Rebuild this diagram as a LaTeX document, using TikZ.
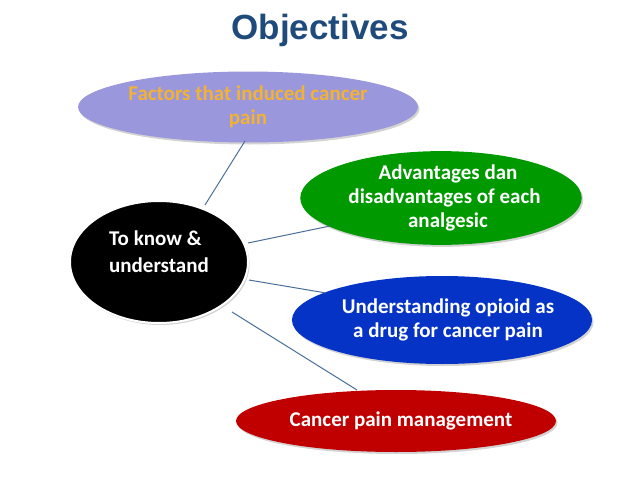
\documentclass[tikz,border=0pt]{standalone}
\usepackage{fontspec}
\setmainfont{Carlito}
\newfontfamily\titlefont{Liberation Sans}
\usetikzlibrary{shapes.geometric,shadows}
\definecolor{titleblue}{HTML}{1F4A7C}
\definecolor{lavender}{HTML}{9B97DC}
\definecolor{orangetxt}{HTML}{F2B233}
\definecolor{grn}{HTML}{009A00}
\definecolor{blu}{HTML}{0433C6}
\definecolor{rd}{HTML}{C00000}
\definecolor{conn}{HTML}{4A6E9A}
\newcommand{\shiftr}[2]{\hspace*{#1}#2\hspace*{-#1}}
\tikzset{
  oval/.style={ellipse, inner sep=0pt, align=center, font=\bfseries\fontsize{21}{24}\selectfont,
    drop shadow={shadow xshift=1.5pt, shadow yshift=-2pt, opacity=0.35}},
  conline/.style={draw=conn, line width=1pt}
}
\begin{document}
\begin{tikzpicture}[x=1pt,y=-1pt]
\useasboundingbox (0,0) rectangle (638,479);
\node[font=\titlefont\bfseries\fontsize{35}{40}\selectfont, text=titleblue] (title) at (320,30) {Objectives};
\node[oval, fill=lavender, text=orangetxt, minimum width=340pt, minimum height=71pt] (f) at (248,107) {Factors that induced cancer\\pain};
\node[oval, fill=grn, text=white, minimum width=276pt, minimum height=92pt] (a) at (441,198) {\shiftr{7pt}{Advantages dan}\\\shiftr{7pt}{disadvantages of each}\\\shiftr{7pt}{analgesic}};
\node[oval, fill=blu, text=white, minimum width=292pt, minimum height=88pt] (u) at (442,320) {\shiftr{6pt}{Understanding opioid as}\\\shiftr{6pt}{a drug for cancer pain}};
\node[oval, fill=rd, text=white, minimum width=320pt, minimum height=62pt] (c) at (396,421) {\shiftr{5pt}{Cancer pain management}};
\coordinate (k1) at (205,205);
\coordinate (k2) at (248,243);
\coordinate (k3) at (249,280);
\coordinate (k4) at (232,312);
\coordinate (f1) at (245,141);
\coordinate (a1) at (330,226);
\coordinate (u1) at (326,293);
\coordinate (c1) at (357,390);
\draw[conline] (k1) -- (f1);
\draw[conline] (k2) -- (a1);
\draw[conline] (k3) -- (u1);
\draw[conline] (k4) -- (c1);
\node[oval, fill=black, draw=white, line width=2pt, text=white, minimum width=178pt, minimum height=122pt, align=left, text depth=20pt, font=\bfseries\fontsize{21}{27}\selectfont] (k) at (159,262) {To know \&\\understand};
\end{tikzpicture}
\end{document}
